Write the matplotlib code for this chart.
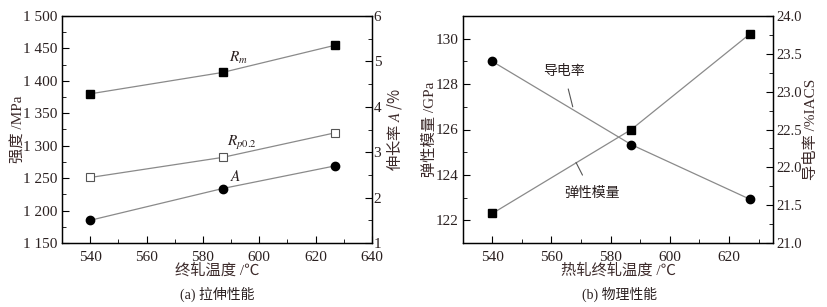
import matplotlib
matplotlib.use("Agg")
import matplotlib.pyplot as plt
from matplotlib.ticker import MultipleLocator, FuncFormatter

plt.rcParams['font.family'] = ['Liberation Serif', 'Noto Sans CJK SC']
plt.rcParams['mathtext.fontset'] = 'stix'
plt.rcParams['axes.unicode_minus'] = False

# ---- data ----
temps = [540, 587, 627]
rm = [1380, 1413, 1455]
rp02 = [1251, 1282, 1320]
elong = [1.5, 2.2, 2.7]
modulus = [122.3, 126.0, 130.2]
conduct = [23.4, 22.3, 21.58]

TXT = '#2a2020'
LBL = '#3d2b2b'
LINE = '#8a8a8a'
FS = 11

fig = plt.figure(figsize=(8.28, 3.07), dpi=100)

def style(ax, ypad, ysize=FS):
    ax.tick_params(which='both', direction='in', colors='black', labelcolor=TXT, labelsize=FS)
    ax.tick_params(which='major', length=5, width=0.8)
    ax.tick_params(which='minor', length=3, width=0.6)
    ax.tick_params(axis='x', pad=6)
    ax.tick_params(axis='y', pad=ypad, labelsize=ysize)
    for s in ax.spines.values():
        s.set_linewidth(0.9)

# ---------------- (a) ----------------
ax1 = fig.add_axes([62/828, 1-243/307, 310/828, 227/307])
ax1b = ax1.twinx()
ax1.plot(temps, rm, color=LINE, lw=0.9, marker='s', ms=5.5, mfc='black', mec='black', zorder=3)
ax1.plot(temps, rp02, color=LINE, lw=0.9, marker='s', ms=5.5, mfc='white', mec='#555555', mew=0.8, zorder=3)
ax1b.plot(temps, elong, color=LINE, lw=0.9, marker='o', ms=6, mfc='black', mec='black', zorder=3)
ax1.set_xlim(530, 640)
ax1.set_ylim(1150, 1500)
ax1b.set_ylim(1, 6)
ax1.xaxis.set_major_locator(MultipleLocator(20))
ax1.xaxis.set_minor_locator(MultipleLocator(10))
ax1.yaxis.set_major_locator(MultipleLocator(50))
ax1.yaxis.set_minor_locator(MultipleLocator(25))
ax1.yaxis.set_major_formatter(FuncFormatter(lambda v, p: f"{int(v)//1000} {int(v)%1000:03d}"))
ax1b.yaxis.set_major_locator(MultipleLocator(1))
ax1b.yaxis.set_minor_locator(MultipleLocator(0.5))
style(ax1, 3); style(ax1b, 1.2)
ax1.set_xlabel('终轧温度 /℃', fontsize=FS, color=LBL, labelpad=-1)
ax1.set_ylabel('强度 /MPa', fontsize=FS, color=LBL)
ax1.yaxis.set_label_coords(-0.12, 0.5)
ax1b.set_ylabel('伸长率 $A$ /%', fontsize=FS, color=LBL, family='Noto Sans CJK SC')
ax1b.yaxis.set_label_coords(1.043, 0.5)
ax1.text(592.5, 1435, r'$R_m$', fontsize=FS, color=TXT, ha='center', va='center')
ax1.text(594, 1304, r'$R_{p0.2}$', fontsize=FS, color=TXT, ha='center', va='center')
ax1.text(591.5, 1252, r'$A$', fontsize=FS, color=TXT, ha='center', va='center')
fig.text(217/828, 1-294/307, '(a) 拉伸性能', fontsize=FS-1, color=TXT, ha='center', va='center')

# ---------------- (b) ----------------
ax2 = fig.add_axes([462.7/828, 1-243/307, 310.6/828, 227/307])
ax2b = ax2.twinx()
ax2.plot(temps, modulus, color=LINE, lw=0.9, marker='s', ms=5.5, mfc='black', mec='black', zorder=3)
ax2b.plot(temps, conduct, color=LINE, lw=0.9, marker='o', ms=6, mfc='black', mec='black', zorder=3)
ax2.set_xlim(530, 635)
ax2.set_ylim(121, 131)
ax2b.set_ylim(21, 24)
ax2.xaxis.set_major_locator(MultipleLocator(20))
ax2.xaxis.set_minor_locator(MultipleLocator(10))
ax2.yaxis.set_major_locator(MultipleLocator(2))
ax2.yaxis.set_minor_locator(MultipleLocator(1))
ax2b.yaxis.set_major_locator(MultipleLocator(0.5))
ax2b.yaxis.set_minor_locator(MultipleLocator(0.25))
ax2b.yaxis.set_major_formatter(FuncFormatter(lambda v, p: f"{v:.1f}"))
style(ax2, 3); style(ax2b, 2, FS-0.5)
ax2.set_xlabel('热轧终轧温度 /℃', fontsize=FS, color=LBL, labelpad=-1)
ax2.set_ylabel('弹性模量 /GPa', fontsize=FS, color=LBL)
ax2.yaxis.set_label_coords(-0.082, 0.5)
ax2b.set_ylabel('导电率 /%IACS', fontsize=FS, color=LBL)
ax2b.yaxis.set_label_coords(1.1, 0.5)
ax2.annotate('导电率', xy=(567.2, 127.0), xytext=(564.2, 128.55), fontsize=FS-1, color=TXT,
             ha='center', va='center',
             arrowprops=dict(arrowstyle='-', color='#555555', lw=0.8, shrinkA=6, shrinkB=0))
ax2.annotate('弹性模量', xy=(568.3, 124.55), xytext=(573.6, 123.2), fontsize=FS-1, color=TXT,
             ha='center', va='center',
             arrowprops=dict(arrowstyle='-', color='#555555', lw=0.8, shrinkA=7, shrinkB=0))
fig.text(620/828, 1-294/307, '(b) 物理性能', fontsize=FS-1, color=TXT, ha='center', va='center')

fig.savefig('out.png', dpi=100)
